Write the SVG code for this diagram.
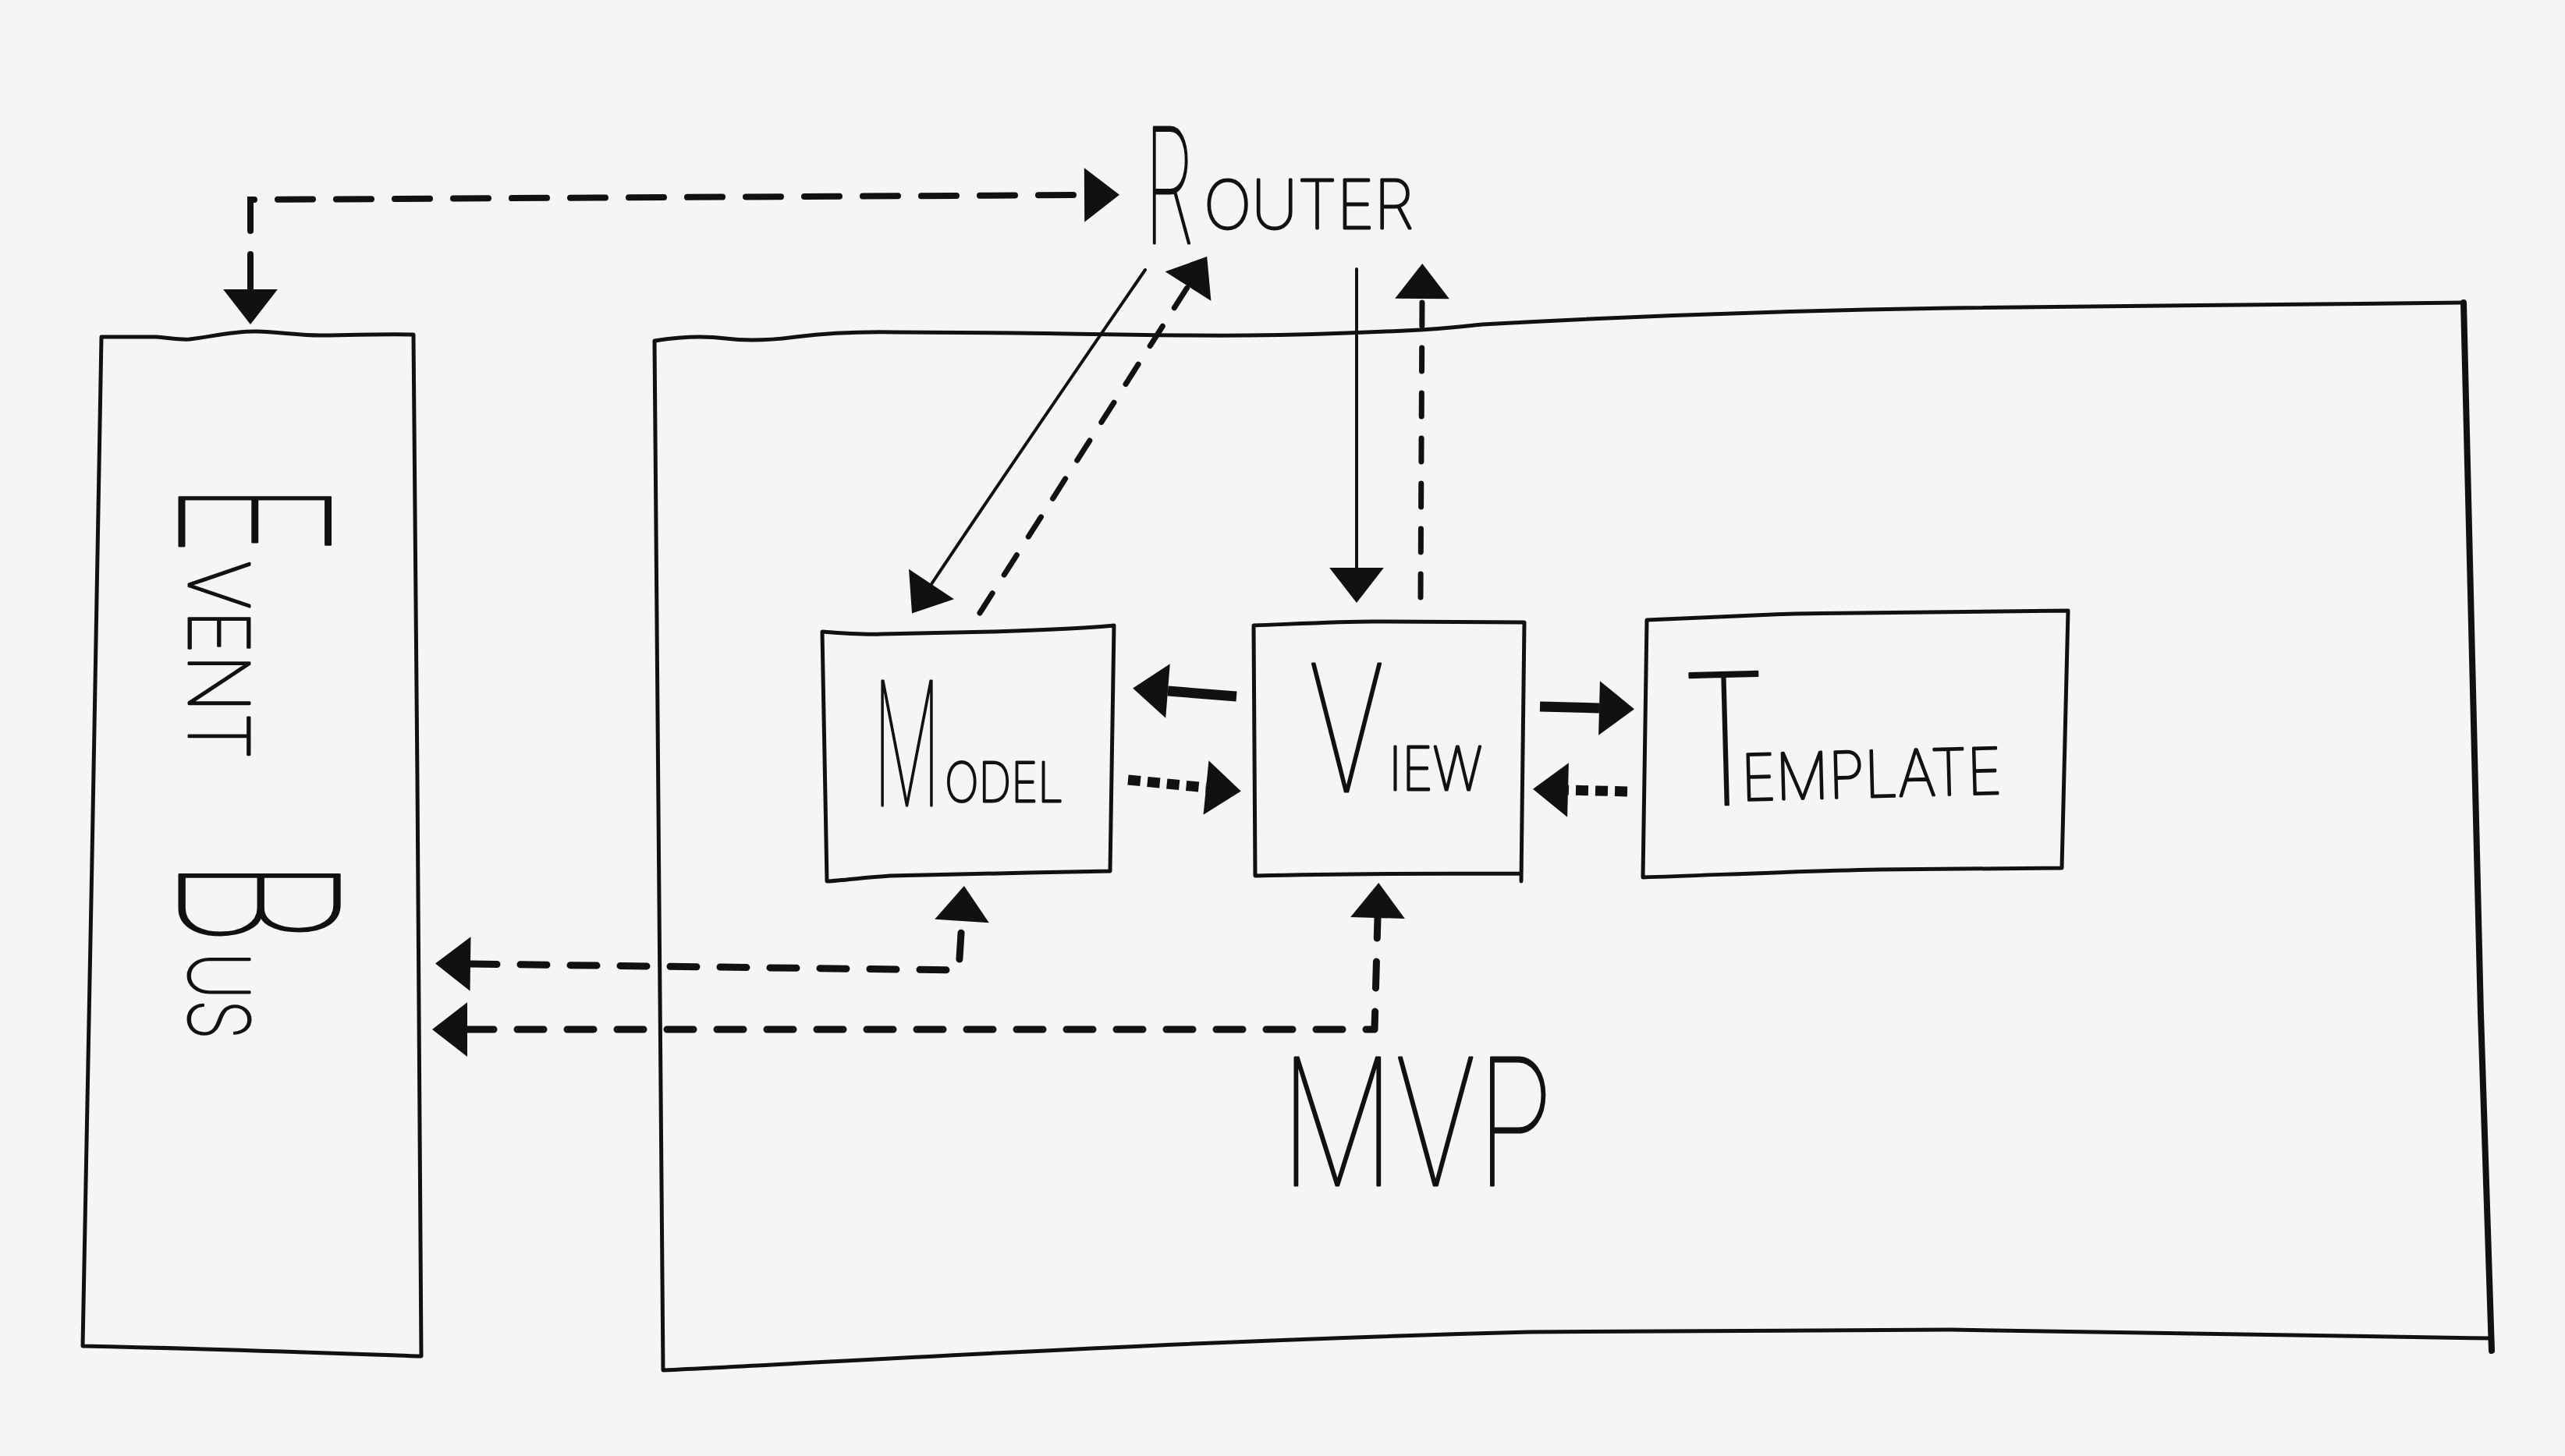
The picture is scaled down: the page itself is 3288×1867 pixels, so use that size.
<svg xmlns="http://www.w3.org/2000/svg" width="3288" height="1867" viewBox="0 0 3288 1867">
<defs>
<style>
.box{fill:none;stroke:#111;stroke-width:5;stroke-linejoin:round;stroke-linecap:round}
.thin{fill:none;stroke:#111;stroke-width:4;stroke-linecap:round;stroke-linejoin:round}
.dash-top{fill:none;stroke:#111;stroke-width:8;stroke-dasharray:45 30;stroke-linecap:round}
.dash-r{fill:none;stroke:#111;stroke-width:7;stroke-dasharray:30 28;stroke-linecap:round}
.dash-b{fill:none;stroke:#111;stroke-width:9;stroke-dasharray:34 30;stroke-linecap:round;stroke-linejoin:round}
.thick{fill:none;stroke:#111;stroke-width:13;stroke-linecap:butt}
.thick-d{fill:none;stroke:#111;stroke-width:13;stroke-dasharray:16 9}
.hand{font-family:Inter,Roboto,"DejaVu Sans",sans-serif;font-weight:100;fill:#111;stroke:#111;stroke-width:3;stroke-linejoin:round}
.up{text-transform:uppercase}
</style>
<marker id="ah" markerUnits="userSpaceOnUse" markerWidth="90" markerHeight="90" refX="0" refY="0" viewBox="-5 -40 55 80" orient="auto-start-reverse" overflow="visible">
<path d="M0,-31 L40,0 L0,31 Z" fill="#111"/>
</marker>
</defs>
<rect width="3288" height="1867" fill="#f5f5f5"/>

<g id="event-bus">
<path class="box" d="M130,432 L200,432 C215,433 230,436 243,435 C270,432 300,424 330,425 C360,426 390,431 417,430 C460,429 500,428 530,429 L535,1000 L540,1739 C450,1736 300,1730 106,1726 L118,1100 Z"/>
<g transform="translate(230,619) rotate(90)">
<text class="hand"><tspan x="0" y="0" font-size="266" textLength="93" lengthAdjust="spacingAndGlyphs">E</tspan><tspan class="up" x="100" y="-12" font-size="107" textLength="255" lengthAdjust="spacingAndGlyphs">vent</tspan> <tspan x="482" y="0" font-size="282" textLength="112" lengthAdjust="spacingAndGlyphs">B</tspan><tspan class="up" x="602" y="-12" font-size="107" textLength="112" lengthAdjust="spacingAndGlyphs">us</tspan></text>
</g>
</g>

<g id="mvp">
<path class="box" d="M3158,388 L2500,395 C2300,398 2100,405 1900,416 C1880,418 1850,422 1800,424 C1750,426 1700,429 1600,430 C1500,431 1400,428 1300,427 L1150,426 C1100,425 1060,427 1020,432 C990,436 960,438 930,434 C900,430 870,432 839,437 L850,1757 C1100,1745 1500,1720 1960,1708 C2100,1706 2300,1705 2500,1705 C2600,1706 2900,1712 3194,1716"/>
<path fill="none" stroke="#111" stroke-width="8" stroke-linecap="round" d="M3158,388 C3165,700 3172,1000 3180,1300 C3186,1500 3190,1620 3194,1732"/>
<text class="hand" x="1641" y="1520" font-size="226" textLength="351" lengthAdjust="spacingAndGlyphs">MVP</text>
</g>

<g id="router">
<text class="hand" transform="translate(1467,0) scale(0.5,1)"><tspan x="0" y="312" font-size="205" textLength="126" lengthAdjust="spacingAndGlyphs">R</tspan><tspan class="up" x="152" y="293" font-size="86" textLength="538" lengthAdjust="spacingAndGlyphs">outer</tspan></text>
</g>

<g id="model">
<path class="box" d="M1054,810 C1080,812 1110,814 1130,813 C1180,812 1230,811 1271,810 C1330,808 1390,806 1428,802 L1423,1117 C1330,1119 1200,1121 1141,1123 C1110,1125 1080,1129 1060,1130 Z"/>
<text class="hand" transform="translate(1119,0) scale(0.5,1)"><tspan x="0" y="1033" font-size="220" textLength="174" lengthAdjust="spacingAndGlyphs">M</tspan><tspan class="up" x="184" y="1028" font-size="70" textLength="304" lengthAdjust="spacingAndGlyphs">odel</tspan></text>
</g>

<g id="view">
<path class="box" d="M1607,802 C1660,800 1720,797 1759,797 C1830,797 1900,798 1954,798 L1950,1130 M1609,1123 C1700,1121 1850,1120 1950,1120 M1607,802 L1609,1123"/>
<text class="hand" transform="translate(1677,0) scale(0.5,1)"><tspan x="0" y="1015" font-size="226" textLength="196" lengthAdjust="spacingAndGlyphs">V</tspan><tspan class="up" x="206" y="1013" font-size="77" textLength="240" lengthAdjust="spacingAndGlyphs">iew</tspan></text>
</g>

<g id="template">
<path class="box" d="M2111,795 C2180,792 2240,789 2301,787 C2420,785 2540,784 2651,783 L2643,1113 C2560,1114 2480,1115 2409,1115 C2300,1117 2200,1122 2106,1125 Z"/>
<text class="hand" transform="rotate(-1.5 2400 1000) translate(2158,0) scale(0.5,1)"><tspan x="0" y="1027" font-size="233" textLength="220" lengthAdjust="spacingAndGlyphs">T</tspan><tspan class="up" x="148" y="1022" font-size="82" textLength="668" lengthAdjust="spacingAndGlyphs">emplate</tspan></text>
</g>

<g id="connectors">
<path class="dash-top" marker-start="url(#ah)" marker-end="url(#ah)" d="M321,371 L321,256 L1390,250"/>
<path class="thin" marker-end="url(#ah)" d="M1468,346 C1400,445 1300,590 1194,749"/>
<path class="dash-r" marker-end="url(#ah)" d="M1256,786 L1523,367"/>
<path class="thin" marker-end="url(#ah)" d="M1739,345 L1739,728"/>
<path class="dash-r" marker-end="url(#ah)" d="M1821,766 L1823,383"/>
<path class="thick" marker-end="url(#ah)" d="M1585,893 L1497,886"/>
<path class="thick" marker-end="url(#ah)" d="M1974,906 L2050,908"/>
<path class="thick-d" marker-end="url(#ah)" d="M1446,1000 L1546,1010"/>
<path class="thick-d" marker-end="url(#ah)" d="M2086,1015 L2010,1013"/>
<path class="dash-b" marker-start="url(#ah)" marker-end="url(#ah)" d="M603,1236 L1229,1244 L1233,1181"/>
<path class="dash-b" marker-start="url(#ah)" marker-end="url(#ah)" d="M599,1320 L1762,1320 L1766,1177"/>
</g>
</svg>
